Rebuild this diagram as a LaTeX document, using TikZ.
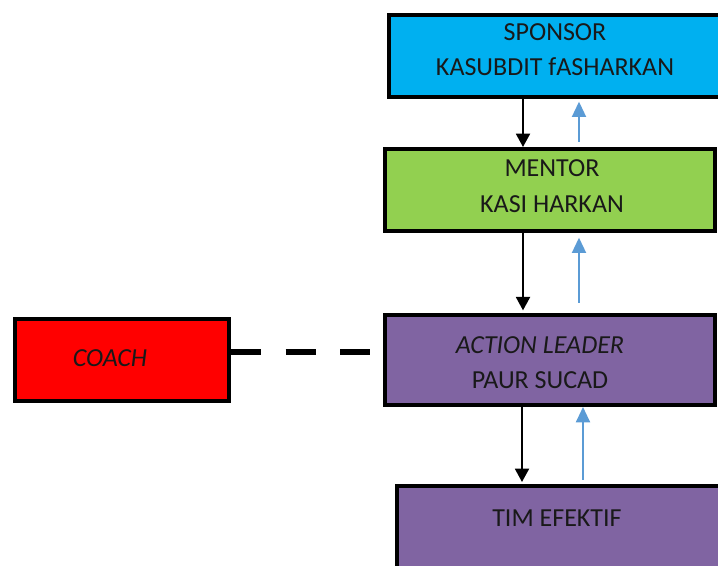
\documentclass[tikz,border=0pt]{standalone}
\usepackage{fontspec}
\setmainfont{Carlito}
\usetikzlibrary{arrows.meta}
\definecolor{sponsorblue}{HTML}{00B0F0}
\definecolor{mentorgreen}{HTML}{92D050}
\definecolor{leaderpurple}{HTML}{8064A2}
\definecolor{coachred}{HTML}{FF0000}
\definecolor{upblue}{HTML}{5B9BD5}
\tikzset{
  box/.style={draw=black, line width=3pt, rectangle, inner sep=0pt},
  lbl/.style={inner sep=0pt, font=\fontsize{19.5}{23}\selectfont, text=black!90},
  downarrow/.style={draw=black, line width=1.4pt, -{Triangle[width=10.5pt,length=10pt]}},
  uparrow/.style={draw=upblue, line width=1.5pt, -{Triangle[width=10.5pt,length=11.5pt]}},
  linkdash/.style={draw=black, line width=5.2pt, dash pattern=on 22.5pt off 18.4pt}
}
\begin{document}
\begin{tikzpicture}[x=0.75pt,y=-0.75pt]
\useasboundingbox (0,0) rectangle (718,566);
\clip (0,0) rectangle (718,566);
% boxes
\node[box, fill=sponsorblue, minimum width=263.25pt, minimum height=61.5pt] (sponsor) at (564.5,56) {};
\node[box, fill=mentorgreen, minimum width=247.5pt, minimum height=61.5pt] (mentor) at (550,190) {};
\node[box, fill=leaderpurple, minimum width=247.5pt, minimum height=67.5pt] (leader) at (550,360) {};
\node[box, fill=leaderpurple, minimum width=272.25pt, minimum height=100.5pt] (tim) at (578.5,553) {};
\node[box, fill=coachred, minimum width=160.5pt, minimum height=61.5pt] (coach) at (122,360) {};
% labels
\node[lbl] (t1) at (555,32) {SPONSOR};
\node[lbl] (t2) at (555,67) {KASUBDIT fASHARKAN};
\node[lbl] (t3) at (552,168) {MENTOR};
\node[lbl] (t4) at (552,204) {KASI HARKAN};
\node[lbl] (t5) at (540,345) {\itshape ACTION LEADER};
\node[lbl] (t6) at (540,380) {PAUR SUCAD};
\node[lbl] (t7) at (110,358) {\itshape COACH};
\node[lbl] (t8) at (557,518) {TIM EFEKTIF};
% x positions of arrows
\coordinate (xa) at (523,0);
\coordinate (xb) at (579,0);
\coordinate (xc) at (522,0);
\coordinate (xd) at (583,0);
% arrows
\draw[downarrow] (sponsor.south -| xa) -- (mentor.north -| xa);
\draw[uparrow, shorten <=4pt, shorten >=2pt] (mentor.north -| xb) -- (sponsor.south -| xb);
\draw[downarrow, shorten >=2pt] (mentor.south -| xa) -- (leader.north -| xa);
\draw[uparrow, shorten <=7.5pt, shorten >=3.5pt] (leader.north -| xb) -- (mentor.south -| xb);
\draw[downarrow, shorten >=1.5pt] (leader.south -| xc) -- (tim.north -| xc);
\draw[uparrow, shorten <=3pt] (tim.north -| xd) -- (leader.south -| xd);
% dashed link
\coordinate (dy) at (0,352);
\draw[linkdash] (coach.east |- dy) -- (leader.west |- dy);
\end{tikzpicture}
\end{document}
